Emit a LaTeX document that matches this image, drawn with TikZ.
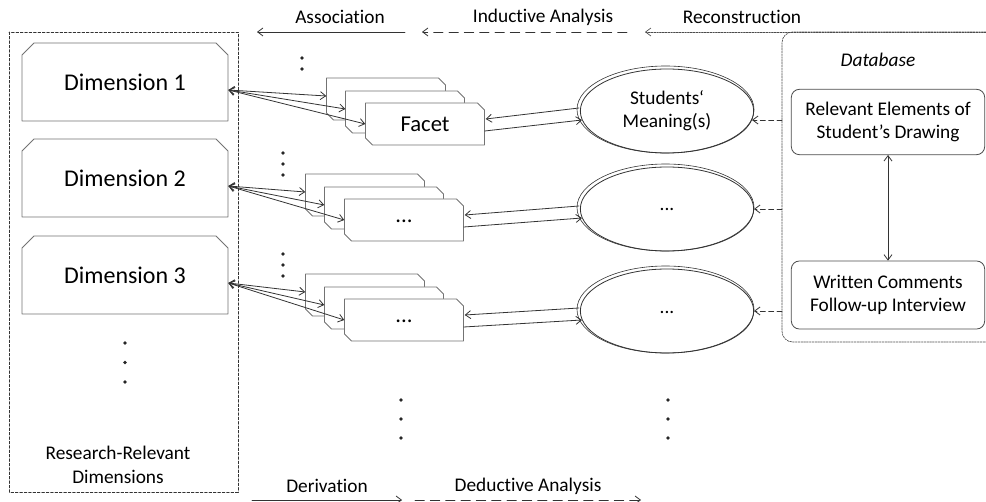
\documentclass[tikz,border=0pt]{standalone}
\usepackage{fontspec}
\setmainfont{Carlito}[Ligatures=NoCommon]
\usepackage{tikz}
\usetikzlibrary{arrows.meta,shapes.geometric,calc}

\newcommand{\Etc}{\raisebox{-0.45ex}{...}}

\begin{document}
\begin{tikzpicture}[
			x=0.75pt,
			y=-0.75pt,
			line cap=round,
			line join=round,
			line width=0.6pt,
			font=\fontsize{14.5}{17.5}\selectfont,
			>={Straight Barb[length=4pt,width=6pt]},
			dimbox/.style={rectangle, inner sep=0pt,
				minimum width=154.5pt, minimum height=58.5pt,
				font=\fontsize{18}{21}\selectfont},
			facet/.style={rectangle, inner sep=0pt,
				minimum width=89pt, minimum height=31.5pt,
				font=\fontsize{17}{20}\selectfont},
			cardline/.style={draw=black!55, fill=white},
			meaning/.style={ellipse, draw=black!80, fill=white, inner sep=0pt,
				minimum width=130pt, minimum height=63pt, align=center},
			dbbox/.style={rectangle, rounded corners=6pt, draw=black!70,
				inner sep=0pt, minimum width=145pt, align=center},
			link/.style={draw=black!80},
			dimframe/.style={draw=black!80, line width=0.5pt, dash pattern=on 2pt off 1.3pt},
			dbframe/.style={draw=black!70, line width=0.5pt, dash pattern=on 1.3pt off 0.8pt},
			analysis/.style={draw=black!80, dash pattern=on 7pt off 4.5pt},
			dbarrow/.style={draw=black!80, dash pattern=on 3.75pt off 2.5pt}
			]
			
			\useasboundingbox (0,0) rectangle (986,502);
			
			\def\DotRadius{1.4pt}
			\def\DimCut{12}
			\def\CardCut{7}
			
			\newcommand{\VDots}[3]{%
				\foreach \dy in {#3} {
					\fill[black!85] (#1,#2+\dy) circle[radius=\DotRadius];
				}
			}
			
			% box with both upper corners cut off
			\newcommand{\DimBox}[4]{%
				\filldraw[cardline] (#2-103,#3+39) -- (#2-103,#3-39+\DimCut)
					-- (#2-103+\DimCut,#3-39) -- (#2+103-\DimCut,#3-39)
					-- (#2+103,#3-39+\DimCut) -- (#2+103,#3+39) -- cycle;
				\node[dimbox] (#1) at (#2,#3) {#4};
			}
			
			% card with upper right and lower left corners cut off
			\newcommand{\Card}[4]{%
				\filldraw[cardline] (#2-59.5,#3+21-\CardCut) -- (#2-59.5,#3-21)
					-- (#2+59.5-\CardCut,#3-21) -- (#2+59.5,#3-21+\CardCut)
					-- (#2+59.5,#3+21) -- (#2-59.5+\CardCut,#3+21) -- cycle;
				\node[facet] (#1) at (#2,#3) {#4};
			}
			
			\newcommand{\FacetStack}[4]{%
				\Card{#1-a}{#2-39}{#3-25}{}
				\Card{#1-b}{#2-20}{#3-12}{}
				\Card{#1-c}{#2}{#3}{#4}
			}
			
			% frames
			\draw[dimframe] (9,32) rectangle (238,492);
			\draw[dbframe, rounded corners=8pt] (986,32) -- (782,32) -- (782,342) -- (986,342);
			\coordinate (dbl) at (782,0);
			
			% Dimensions
			\DimBox{dim1}{125}{82}{Dimension 1}
			\DimBox{dim2}{125}{178}{Dimension 2}
			\DimBox{dim3}{125}{275}{Dimension 3}
			\VDots{125}{343}{0,19.5,39}
			\node[align=center] (dims) at (118,465) {Research-Relevant\\Dimensions};
			
			% Facets
			\FacetStack{f1}{425}{124}{Facet}
			\FacetStack{f2}{404}{220}{\Etc}
			\FacetStack{f3}{404}{320}{\Etc}
			\VDots{302}{58}{0,11}
			\VDots{283}{153}{0,11,22}
			\VDots{283}{254}{0,11,22}
			\VDots{401}{400}{0,19,38}
			
			% Meanings
			\node[meaning] (m1) at (667,111) {Students‘\\Meaning(s)};
			\node[meaning] (m2) at (667,209) {\Etc};
			\node[meaning] (m3) at (667,311) {\Etc};
			\foreach \m in {m1,m2,m3} {
				\draw[black!80, line width=0.45pt] ([shift={(-1.5,-1.5)}]\m.center)
					ellipse [x radius=88.5, y radius=43.5];
			}
			\VDots{668}{400}{0,19,38}
			
			% Database
			\node (dbtitle) at (878,60) {\itshape Database};
			\node[dbbox, minimum height=49pt] (rel) at (888,122) {Relevant Elements of\\Student’s Drawing};
			\node[dbbox, minimum height=51pt] (wri) at (888,295) {Written Comments\\Follow-up Interview};
			\draw[link, <->] (rel) -- (wri);
			
			% dimension <-> facets, facet <-> meaning
			\foreach \g/\d/\m in {f1/dim1/m1, f2/dim2/m2, f3/dim3/m3} {
				\draw[link, <->] ($(\d.east)+(0,8)$) -- ($(\g-a.west)+(0,-3)$);
				\draw[link, <->] ($(\d.east)+(0,8)$) -- ($(\g-b.west)+(0,-3)$);
				\draw[link, <->] ($(\d.east)+(0,8)$) -- (\g-c.west);
				\draw[link, <-] ($(\g-c.east)+(1,-5)$) -- ($(\m.west)+(-1,-3)$);
				\draw[link, ->] ($(\g-c.east)+(0,7)$) -- ($(\m.west)+(2,9)$);
			}
			
			% database -> meanings
			\draw[dbarrow, ->] ($(dbl |- m1.east)+(0,9)$) -- ($(m1.east)+(-2,9)$);
			\draw[dbarrow, ->] (dbl |- m2.east) -- (m2.east);
			\draw[dbarrow, ->] (dbl |- m3.east) -- (m3.east);
			
			% top: Association, Inductive Analysis, Reconstruction
			\node (assoc) at (340,17) {Association};
			\node (induct) at (543,17) {Inductive Analysis};
			\node (recon) at (742,17) {Reconstruction};
			\coordinate (assocR) at (405,32);
			\coordinate (assocL) at (257,32);
			\coordinate (inductR) at (627,32);
			\coordinate (inductL) at (422,32);
			\coordinate (reconR) at (986,32);
			\coordinate (reconL) at (645,32);
			\draw[link, ->] (assocR) -- (assocL);
			\draw[analysis, ->] (inductR) -- (inductL);
			\draw[dbframe, ->] (reconR) -- (reconL);
			
			% bottom: Derivation, Deductive Analysis
			\node (deriv) at (327,486) {Derivation};
			\node (deduct) at (528,486) {Deductive Analysis};
			\coordinate (derivL) at (252,500);
			\coordinate (derivR) at (402,500);
			\coordinate (deductL) at (415,500);
			\coordinate (deductR) at (641,500);
			\draw[link, ->] (derivL) -- (derivR);
			\draw[analysis, ->] (deductL) -- (deductR);
			
		\end{tikzpicture}
\end{document}
